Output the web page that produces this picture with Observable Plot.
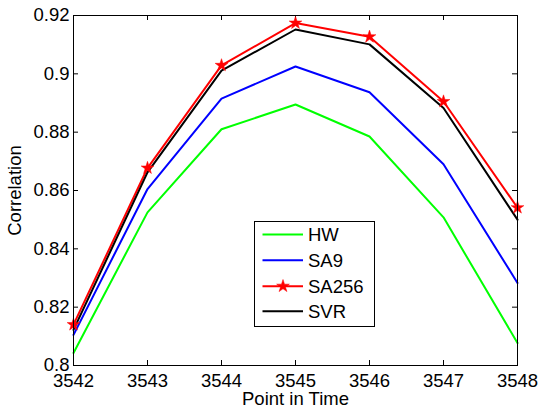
<!DOCTYPE html>
<html>
<head>
<meta charset="utf-8">
<script src="https://cdn.jsdelivr.net/npm/d3@7"></script>
<script src="https://cdn.jsdelivr.net/npm/@observablehq/plot@0.6"></script>
<style>
  html, body { margin: 0; padding: 0; background: #fff; }
  #wrap { position: relative; width: 538px; height: 408px; font-family: "Liberation Sans", Arial, Helvetica, sans-serif; }
</style>
</head>
<body>
<div id="wrap"></div>
<script>
// ---- data ----
const points = [3542, 3543, 3544, 3545, 3546, 3547, 3548];
const hw    = [0.8043, 0.8525, 0.8810, 0.8895, 0.8785, 0.8508, 0.8077];
const sa9   = [0.8105, 0.8605, 0.8915, 0.9025, 0.8937, 0.8690, 0.8283];
const sa256 = [0.8140, 0.8677, 0.9029, 0.9174, 0.9127, 0.8905, 0.8541];
const svr   = [0.8122, 0.8662, 0.9011, 0.9152, 0.9101, 0.8883, 0.8500];
const seriesNames = ["HW", "SA9", "SA256", "SVR"];
const seriesColors = ["#00ff00", "#0000ff", "#ff0000", "#000000"];
const xTicks = [3542, 3543, 3544, 3545, 3546, 3547, 3548];
const yTicks = [0.8, 0.82, 0.84, 0.86, 0.88, 0.9, 0.92];

const seriesValues = [hw, sa9, sa256, svr];
const rows = seriesNames.flatMap((name, s) =>
  points.map((p, i) => ({series: name, x: p, y: seriesValues[s][i]})));
const colorOf = Object.fromEntries(seriesNames.map((n, i) => [n, seriesColors[i]]));

const W = 538, H = 408;
const mL = 73, mR = 21, mT = 15, mB = 43;
const fw = W - mL - mR, fh = H - mT - mB;
const tickLen = 5;

const chart = Plot.plot({
  width: W,
  height: H,
  marginLeft: mL,
  marginRight: mR,
  marginTop: mT,
  marginBottom: mB,
  style: {fontFamily: '"Liberation Sans", Arial, Helvetica, sans-serif', fontSize: "18.5px", color: "#000", background: "#fff", overflow: "visible"},
  x: {domain: [3542, 3548]},
  y: {domain: [0.8, 0.92]},
  marks: [
    // inward ticks on all four sides
    Plot.tickX(xTicks, {x: d => d, insetTop: fh - tickLen, stroke: "#000", strokeWidth: 1}),
    Plot.tickX(xTicks, {x: d => d, insetBottom: fh - tickLen, stroke: "#000", strokeWidth: 1}),
    Plot.tickY(yTicks, {y: d => d, insetRight: fw - tickLen, stroke: "#000", strokeWidth: 1}),
    Plot.tickY(yTicks, {y: d => d, insetLeft: fw - tickLen, stroke: "#000", strokeWidth: 1}),
    ...seriesNames.map(name =>
      Plot.line(rows.filter(r => r.series === name), {x: "x", y: "y", stroke: colorOf[name], strokeWidth: 2})
    ),
    Plot.dot(rows.filter(r => r.series === "SA256"), {x: "x", y: "y", symbol: "star", r: 4, fill: "#ff0000", stroke: "#ff0000", strokeWidth: 0.5}),
    Plot.frame({stroke: "#000", strokeWidth: 1}),
    Plot.axisX(xTicks, {tickSize: 0, tickPadding: 8, label: "Point in Time", labelAnchor: "center", labelArrow: "none", labelOffset: 39, tickFormat: d => String(d)}),
    Plot.axisY(yTicks, {tickSize: 0, tickPadding: 4, label: "Correlation", labelAnchor: "center", labelArrow: "none", labelOffset: 66, tickFormat: d => String(d)})
  ]
});
document.getElementById("wrap").appendChild(chart);

// ---- legend (HTML overlay) ----
const lw = 120, lh = 105;
const legendSvg = d3.create("svg")
  .attr("width", lw + 1)
  .attr("height", lh + 1)
  .style("position", "absolute").style("left", "254px").style("top", "221px");
legendSvg.append("rect").attr("x", 0.5).attr("y", 0.5).attr("width", lw).attr("height", lh)
  .attr("fill", "#fff").attr("stroke", "#000").attr("stroke-width", 1);
const rowY = [13.5, 39.3, 65.2, 90.3];
seriesNames.forEach((name, i) => {
  const g = legendSvg.append("g").attr("transform", `translate(0,${rowY[i]})`);
  g.append("line").attr("x1", 8.5).attr("x2", 49).attr("y1", 0).attr("y2", 0)
    .attr("stroke", seriesColors[i]).attr("stroke-width", 2);
  if (name === "SA256") {
    g.append("path").attr("d", d3.symbol(d3.symbolStar, Math.PI * 16)())
      .attr("transform", "translate(29,0)").attr("fill", "#ff0000").attr("stroke", "#ff0000").attr("stroke-width", 0.5);
  }
  g.append("text").attr("x", 54).attr("y", 0).attr("dy", "0.35em")
    .attr("font-family", '"Liberation Sans", Arial, Helvetica, sans-serif')
    .attr("font-size", "18.5px").attr("fill", "#000").text(name);
});
document.getElementById("wrap").appendChild(legendSvg.node());
</script>
</body>
</html>
